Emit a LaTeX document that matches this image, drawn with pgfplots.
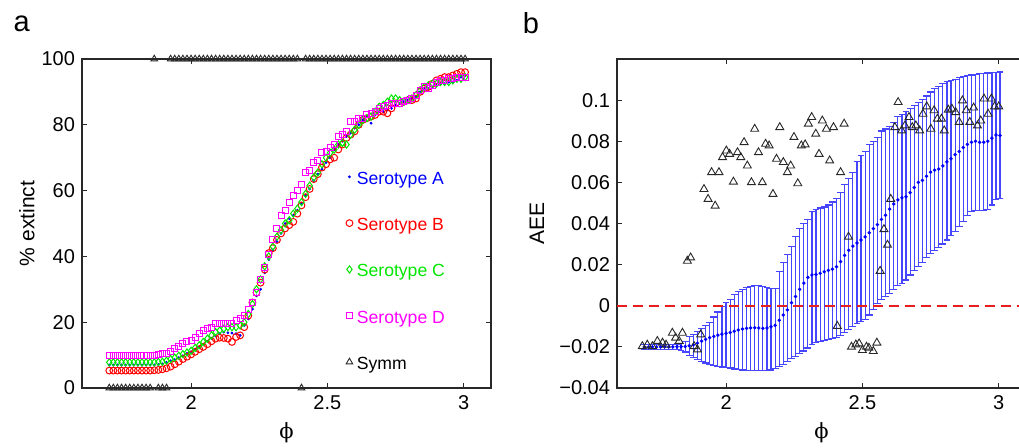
\documentclass[border=0pt]{standalone}
\usepackage[rgb]{xcolor}
\usepackage{pgfplots}
\pgfplotsset{compat=1.18}
\usepackage{pgfplotstable}
\usepackage{fontspec}
\setmainfont{Liberation Sans}
\newfontfamily\phifont{DejaVu Serif}

\definecolor{errblue}{RGB}{70,70,255}
\definecolor{dashred}{RGB}{230,30,30}
\definecolor{pblue}{RGB}{0,0,255}
\definecolor{pred}{RGB}{255,0,0}
\definecolor{pgreen}{RGB}{0,230,0}
\definecolor{pmag}{RGB}{255,0,255}
\definecolor{pgray}{RGB}{40,40,40}

% panel a: % extinct per serotype, and symmetric case
\pgfplotstableread{
x A B C D S
1.700 7.0 5.3 7.8 9.8 0
1.715 7.0 5.3 7.8 9.8 0
1.730 7.0 5.3 7.8 9.8 0
1.745 7.0 5.3 7.8 9.8 0
1.760 7.0 5.3 7.8 9.8 0
1.775 7.0 5.3 7.8 9.8 0
1.790 7.0 5.3 7.8 9.8 0
1.805 7.0 5.3 7.8 9.8 0
1.820 7.0 5.3 7.8 9.8 0
1.835 7.0 5.3 7.8 9.8 0
1.850 7.0 5.3 7.8 9.8 0
1.865 7.0 5.4 7.8 9.9 100
1.880 7.1 5.5 7.9 10.3 0
1.895 7.3 5.7 8.0 10.5 0
1.910 7.8 6.0 8.3 10.5 0
1.925 8.3 6.5 8.8 11.0 100
1.940 8.6 7.2 9.2 12.0 100
1.955 9.2 8.0 9.8 12.5 100
1.970 9.8 8.8 10.3 13.5 100
1.985 10.5 9.5 10.8 14.0 100
2.000 11.0 10.2 11.3 14.5 100
2.015 11.8 11.0 12.2 15.5 100
2.030 12.5 11.8 13.0 16.5 100
2.045 13.3 12.5 14.0 17.5 100
2.060 14.2 13.3 15.0 18.0 100
2.075 15.0 14.2 16.0 18.5 100
2.090 15.8 15.0 17.0 19.5 100
2.105 16.5 15.3 17.5 19.5 100
2.120 17.0 15.2 18.0 19.5 100
2.135 16.8 15.0 18.5 19.5 100
2.150 16.7 14.0 18.5 19.5 100
2.165 16.5 15.5 18.5 20.5 100
2.180 16.0 16.0 19.0 21.0 100
2.195 19.0 18.5 20.0 22.0 100
2.210 21.0 22.0 22.5 24.0 100
2.225 24.0 26.0 25.5 26.0 100
2.240 28.0 29.0 30.0 29.0 100
2.255 30.0 32.0 33.0 33.0 100
2.270 35.0 36.0 37.0 36.5 100
2.285 39.0 41.0 40.0 40.5 100
2.300 42.0 42.5 43.0 45.0 100
2.315 44.5 45.0 46.0 48.5 100
2.330 47.0 47.0 48.0 52.5 100
2.345 50.0 48.5 50.0 54.0 100
2.360 51.5 49.5 51.0 56.5 100
2.375 52.5 50.5 53.0 58.5 100
2.390 54.0 53.0 54.5 60.0 100
2.405 56.0 55.5 56.5 62.0 0
2.420 58.5 58.0 59.0 65.5 100
2.435 60.5 60.5 61.5 66.0 100
2.450 63.0 63.5 64.0 68.5 100
2.465 65.0 65.0 65.5 69.0 100
2.480 66.5 67.0 68.0 71.5 100
2.495 68.5 68.0 70.0 72.0 100
2.510 70.0 69.5 71.5 73.0 100
2.525 72.5 70.0 72.5 74.0 100
2.540 74.0 72.5 74.0 76.5 100
2.555 75.0 74.0 74.5 77.0 100
2.570 76.5 76.0 74.0 78.0 100
2.585 77.5 77.0 77.0 81.0 100
2.600 79.0 78.0 78.5 81.0 100
2.615 80.0 80.0 80.0 82.0 100
2.630 81.5 81.5 81.5 82.0 100
2.645 82.5 82.0 82.0 83.0 100
2.660 80.5 82.5 82.5 83.5 100
2.675 83.0 83.0 84.0 84.0 100
2.690 84.0 84.0 85.5 85.0 100
2.705 84.0 84.0 86.0 85.5 100
2.720 84.5 83.5 87.0 86.0 100
2.735 85.0 85.0 88.0 86.5 100
2.750 86.0 86.5 88.0 86.5 100
2.765 86.5 86.5 87.5 86.5 100
2.780 87.0 87.0 87.0 87.0 100
2.795 87.5 87.5 87.5 87.5 100
2.810 88.0 87.5 88.0 88.0 100
2.825 88.5 88.0 89.0 89.0 100
2.840 90.0 90.0 90.5 90.5 100
2.855 91.0 91.0 91.5 91.5 100
2.870 91.0 91.5 92.0 91.0 100
2.885 91.5 92.5 92.5 92.0 100
2.900 92.0 93.5 92.5 93.0 100
2.915 92.5 94.0 93.0 93.5 100
2.930 92.5 94.5 93.0 93.5 100
2.945 93.0 94.5 93.0 94.0 100
2.960 93.0 95.0 93.5 94.0 100
2.975 93.5 95.5 94.0 94.5 100
2.990 94.5 96.0 94.0 94.5 100
3.005 95.0 96.0 94.5 94.5 100
}\tabA

% panel b: mean AEE with upper / lower ends of the bars
\pgfplotstableread{
x m u l
1.700 -0.0200 -0.0190 -0.0212
1.715 -0.0202 -0.0190 -0.0212
1.730 -0.0200 -0.0190 -0.0212
1.745 -0.0201 -0.0190 -0.0212
1.760 -0.0200 -0.0190 -0.0212
1.775 -0.0199 -0.0189 -0.0212
1.790 -0.0200 -0.0189 -0.0212
1.805 -0.0200 -0.0188 -0.0213
1.820 -0.0199 -0.0186 -0.0214
1.835 -0.0199 -0.0182 -0.0218
1.850 -0.0198 -0.0175 -0.0225
1.865 -0.0195 -0.0150 -0.0240
1.880 -0.0190 -0.0140 -0.0250
1.895 -0.0182 -0.0125 -0.0260
1.910 -0.0172 -0.0110 -0.0270
1.925 -0.0163 -0.0095 -0.0278
1.940 -0.0155 -0.0080 -0.0285
1.955 -0.0149 -0.0055 -0.0290
1.970 -0.0143 -0.0030 -0.0295
1.985 -0.0138 -0.0005 -0.0298
2.000 -0.0134 0.0015 -0.0300
2.015 -0.0130 0.0030 -0.0303
2.030 -0.0124 0.0055 -0.0308
2.045 -0.0118 0.0070 -0.0310
2.060 -0.0113 0.0080 -0.0312
2.075 -0.0110 0.0088 -0.0313
2.090 -0.0108 0.0095 -0.0314
2.105 -0.0107 0.0098 -0.0315
2.120 -0.0108 0.0097 -0.0315
2.135 -0.0110 0.0093 -0.0315
2.150 -0.0108 0.0088 -0.0314
2.165 -0.0102 0.0083 -0.0312
2.180 -0.0095 0.0085 -0.0305
2.195 -0.0070 0.0165 -0.0295
2.210 -0.0045 0.0210 -0.0285
2.225 -0.0020 0.0250 -0.0270
2.240 0.0015 0.0290 -0.0258
2.255 0.0045 0.0335 -0.0245
2.270 0.0080 0.0375 -0.0232
2.285 0.0110 0.0400 -0.0220
2.300 0.0138 0.0420 -0.0205
2.315 0.0150 0.0460 -0.0190
2.330 0.0152 0.0470 -0.0180
2.345 0.0158 0.0475 -0.0172
2.360 0.0165 0.0480 -0.0168
2.375 0.0172 0.0490 -0.0163
2.390 0.0178 0.0505 -0.0158
2.405 0.0190 0.0520 -0.0153
2.420 0.0215 0.0550 -0.0145
2.435 0.0245 0.0590 -0.0130
2.450 0.0270 0.0620 -0.0115
2.465 0.0290 0.0650 -0.0100
2.480 0.0305 0.0700 -0.0088
2.495 0.0320 0.0730 -0.0078
2.510 0.0335 0.0750 -0.0065
2.525 0.0355 0.0785 -0.0045
2.540 0.0375 0.0800 -0.0020
2.555 0.0395 0.0820 0.0010
2.570 0.0420 0.0850 0.0030
2.585 0.0440 0.0860 0.0045
2.600 0.0470 0.0870 0.0060
2.615 0.0495 0.0890 0.0080
2.630 0.0515 0.0920 0.0100
2.645 0.0525 0.0930 0.0110
2.660 0.0530 0.0945 0.0125
2.675 0.0550 0.0960 0.0150
2.690 0.0575 0.0975 0.0170
2.705 0.0600 0.0990 0.0190
2.720 0.0610 0.1005 0.0210
2.735 0.0630 0.1020 0.0235
2.750 0.0650 0.1040 0.0255
2.765 0.0660 0.1055 0.0270
2.780 0.0665 0.1065 0.0285
2.795 0.0680 0.1080 0.0300
2.810 0.0700 0.1090 0.0320
2.825 0.0715 0.1095 0.0340
2.840 0.0735 0.1100 0.0360
2.855 0.0750 0.1110 0.0385
2.870 0.0770 0.1115 0.0410
2.885 0.0785 0.1120 0.0440
2.900 0.0795 0.1122 0.0460
2.915 0.0800 0.1125 0.0465
2.930 0.0795 0.1128 0.0465
2.945 0.0795 0.1130 0.0465
2.960 0.0800 0.1132 0.0470
2.975 0.0815 0.1135 0.0490
2.990 0.0830 0.1135 0.0515
3.005 0.0828 0.1137 0.0520
}\tabB

% panel b: symmetric case
\pgfplotstableread{
x y
1.693 -0.0197
1.711 -0.0190
1.730 -0.0197
1.748 -0.0172
1.767 -0.0180
1.780 -0.0190
1.803 -0.0132
1.815 -0.0156
1.828 -0.0172
1.840 -0.0132
1.858 0.0218
1.870 0.0234
1.883 -0.0197
1.895 -0.0213
1.907 -0.0140
1.919 0.0567
1.934 0.0519
1.947 0.0649
1.960 0.0486
1.974 0.0649
1.987 0.0722
2.001 0.0754
2.013 0.0738
2.027 0.0603
2.042 0.0746
2.054 0.0722
2.066 0.0795
2.078 0.0681
2.093 0.0600
2.105 0.0860
2.119 0.0746
2.133 0.0600
2.145 0.0787
2.158 0.0779
2.172 0.0543
2.185 0.0714
2.197 0.0868
2.210 0.0698
2.225 0.0649
2.237 0.0681
2.249 0.0820
2.263 0.0595
2.276 0.0779
2.290 0.0784
2.302 0.0885
2.314 0.0917
2.329 0.0836
2.341 0.0738
2.353 0.0900
2.368 0.0860
2.380 0.0706
2.394 0.0868
2.408 -0.0099
2.420 0.0649
2.433 0.0885
2.449 0.0335
2.460 -0.0200
2.476 -0.0189
2.488 -0.0184
2.500 -0.0216
2.515 -0.0200
2.524 -0.0205
2.540 -0.0221
2.553 -0.0180
2.565 0.0169
2.579 0.0372
2.592 0.0296
2.604 0.0519
2.619 0.0868
2.631 0.0990
2.644 0.0852
2.656 0.0876
2.671 0.0917
2.683 0.0868
2.696 0.0876
2.710 0.0852
2.722 0.0933
2.736 0.0969
2.751 0.0860
2.763 0.0950
2.775 0.0909
2.790 0.0909
2.800 0.0852
2.815 0.0953
2.828 0.0958
2.842 0.0941
2.855 0.0893
2.867 0.0998
2.881 0.0950
2.894 0.0893
2.908 0.0963
2.922 0.0876
2.934 0.0900
2.946 0.1007
2.961 0.0933
2.973 0.1007
2.985 0.0969
3.000 0.0969
}\tabS

\pgfplotsset{panel/.style={
  scale only axis, width=204.5pt, height=164.5pt,
  xmin=1.6, xmax=3.1, xtick={2,2.5,3}, xticklabels={2,2.5,3},
  tick align=inside, tick pos=both, major tick length=2.5pt,
  axis line style={line width=0.6pt, draw=pgray},
  tick style={line width=0.5pt, draw=pgray},
  ticklabel style={font=\fontsize{10}{12}\selectfont},
  label style={font=\fontsize{10.5}{12}\selectfont},
  xlabel={{\phifont ϕ}},
  xlabel style={at={(axis description cs:0.5,-0.137)}, anchor=center},
}}

\begin{document}
\begin{tikzpicture}
\useasboundingbox (-41pt,-29.5pt) rectangle (468.5pt,194pt);

\begin{axis}[panel, at={(0pt,0pt)}, anchor=south west,
  ymin=0, ymax=100, ytick={0,20,40,60,80,100}, yticklabels={0,20,40,60,80,100},
  ylabel={\% extinct},
  ylabel style={at={(axis description cs:-0.1345,0.5)}, anchor=center},
  clip=false,
  legend style={draw=none, fill=none, at={(rel axis cs:0.63,0.682)}, anchor=north west,
    row sep=11.5pt, font=\fontsize{8.8}{10}\selectfont},
  legend cell align=left,
  legend image code/.code={\draw[#1] plot coordinates {(0.1cm,0.05cm)};},
]
\addplot[only marks, mark=*, mark size=0.5pt, draw=pblue, fill=pblue,
  mark options={draw=pblue, fill=pblue}] table[x=x, y=A] {\tabA};
\addlegendentry{\textcolor{pblue}{Serotype A}}
\addplot[only marks, mark=o, mark size=1.7pt, draw=pred, line width=0.5pt,
  mark options={draw=pred}] table[x=x, y=B] {\tabA};
\addlegendentry{\textcolor{pred}{Serotype B}}
\addplot[only marks, mark=diamond, mark size=1.8pt, draw=pgreen, line width=0.5pt,
  mark options={draw=pgreen}] table[x=x, y=C] {\tabA};
\addlegendentry{\textcolor{pgreen}{Serotype C}}
\addplot[only marks, mark=square, mark size=1.5pt, draw=pmag, line width=0.5pt,
  mark options={draw=pmag}] table[x=x, y=D] {\tabA};
\addlegendentry{\textcolor{pmag}{Serotype D}}
\addplot[only marks, mark=triangle, mark size=1.9pt, draw=pgray, line width=0.45pt,
  mark options={draw=pgray}] table[x=x, y=S] {\tabA};
\addlegendentry{Symm}
\end{axis}

\begin{axis}[panel, at={(267.5pt,0pt)}, anchor=south west,
  ymin=-0.04, ymax=0.12,
  ytick={-0.04,-0.02,0,0.02,0.04,0.06,0.08,0.1},
  yticklabels={−0.04,−0.02,0,0.02,0.04,0.06,0.08,0.1},
  ylabel={AEE},
  ylabel style={at={(axis description cs:-0.1956,0.5)}, anchor=center},
]
\addplot[only marks, mark=*, mark size=0.65pt, draw=pblue, fill=pblue,
  mark options={draw=pblue, fill=pblue},
  error bars/.cd, y dir=both, y explicit,
  error bar style={draw=errblue, line width=0.6pt, solid},
  error mark options={draw=errblue, rotate=90, mark size=1.7pt, line width=0.6pt}]
  table[x=x, y=m, y error plus expr=\thisrow{u}-\thisrow{m}, y error minus expr=\thisrow{m}-\thisrow{l}] {\tabB};
\addplot[draw=dashred, line width=0.9pt, dash pattern=on 5pt off 3pt] coordinates {(1.6,0) (3.1,0)};
\addplot[only marks, mark=triangle, mark size=2.3pt, draw=pgray, line width=0.45pt,
  mark options={draw=pgray}] table[x=x, y=y] {\tabS};
\end{axis}

\node[font=\fontsize{14.5}{17}\selectfont] at (-30.2pt,182.3pt) {a};
\node[font=\fontsize{14.5}{17}\selectfont] at (224.5pt,182.3pt) {b};
\end{tikzpicture}
\end{document}
